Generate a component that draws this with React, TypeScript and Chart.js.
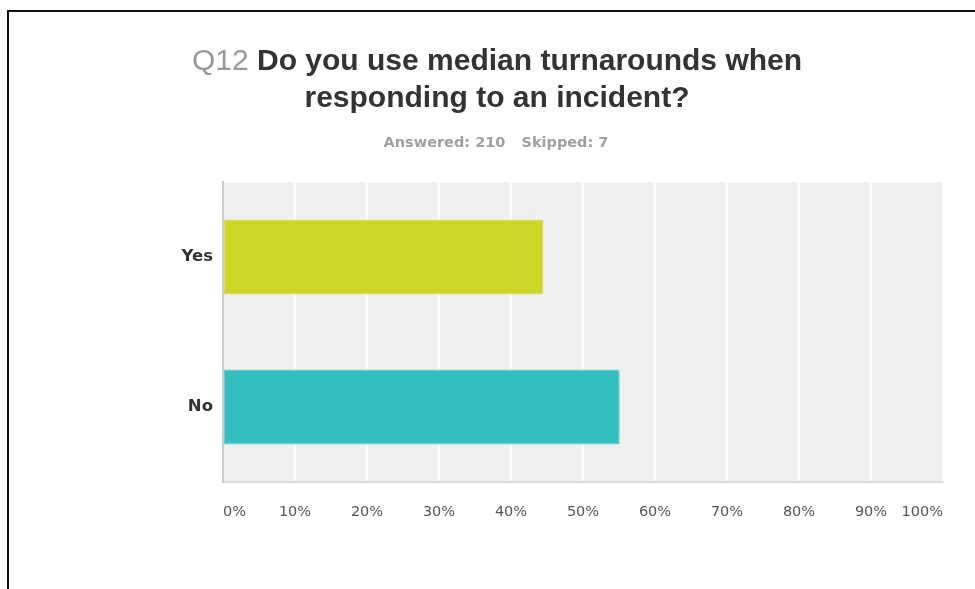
import React, { useEffect, useRef } from "react";
import { Chart, registerables } from "chart.js";

Chart.register(...registerables);

const categories = ["Yes", "No"];
const percentValues = [44.5, 55.1];
const barColors = ["#cdd527", "#33bec0"];
const tickValues = [0, 10, 20, 30, 40, 50, 60, 70, 80, 90, 100];
const titlePrefix = "Q12";
const titleLine1 = "Do you use median turnarounds when";
const titleLine2 = "responding to an incident?";
const answeredText = "Answered: 210";
const skippedText = "Skipped: 7";

const plotBg = {
  id: "plotBg",
  beforeDraw(chart: any) {
    const { ctx, chartArea } = chart;
    ctx.save();
    ctx.fillStyle = "#efefef";
    ctx.fillRect(chartArea.left, chartArea.top, chartArea.right - chartArea.left, chartArea.bottom - chartArea.top);
    ctx.restore();
  },
};

export default function App() {
  const ref = useRef<HTMLCanvasElement | null>(null);
  useEffect(() => {
    if (!ref.current) return;
    const chart = new Chart(ref.current, {
      type: "bar",
      data: {
        labels: categories,
        datasets: [
          {
            data: percentValues,
            backgroundColor: barColors,
            borderColor: ["#d6dc55", "#5ccbcd"],
            borderWidth: 1,
            borderSkipped: false,
            categoryPercentage: 1,
            barPercentage: 0.5,
          },
        ],
      },
      plugins: [plotBg],
      options: {
        indexAxis: "y",
        responsive: false,
        animation: false,
        devicePixelRatio: 1,
        layout: { padding: { top: 182, right: 32, bottom: 0, left: 0 } },
        plugins: {
          legend: { display: false },
          title: { display: false },
          tooltip: { enabled: false },
        },
        scales: {
          x: {
            min: 0,
            max: 100,
            afterBuildTicks: (s: any) => {
              s.ticks = tickValues.map((v) => ({ value: v }));
            },
            afterFit: (s: any) => {
              s.height = 107;
            },
            ticks: {
              callback: (v: any) => v + "%",
              align: "inner",
              padding: 22,
              color: "#555555",
              font: { family: "'DejaVu Sans', sans-serif", size: 14.5 },
            },
            grid: { color: "#ffffff", lineWidth: 1.5, drawTicks: false },
            border: { display: true, color: "#dadada", width: 2 },
          },
          y: {
            afterFit: (s: any) => {
              s.width = 223;
            },
            ticks: {
              padding: 10,
              color: "#333333",
              font: { family: "'DejaVu Sans', sans-serif", size: 16.5, weight: "bold" },
            },
            grid: { display: false, drawTicks: false },
            border: { display: true, color: "#cccccc", width: 2 },
          },
        },
      },
    } as any);
    return () => chart.destroy();
  }, []);

  return (
    <div
      style={{
        position: "fixed",
        left: 0,
        top: 0,
        width: 975,
        height: 589,
        background: "#ffffff",
        overflow: "hidden",
      }}
    >
      <div
        style={{
          position: "absolute",
          left: 7,
          top: 10,
          width: 1100,
          height: 1100,
          border: "2px solid #111111",
          boxSizing: "border-box",
        }}
      />
      <canvas ref={ref} width={975} height={589} style={{ position: "absolute", left: 0, top: 0, width: 975, height: 589 }} />
      <div
        style={{
          position: "absolute",
          left: 97,
          top: 41,
          width: 800,
          textAlign: "center",
          fontFamily: "'Liberation Sans', Arial, sans-serif",
          fontWeight: "bold",
          fontSize: 30,
          lineHeight: "37px",
          color: "#333333",
        }}
      >
        <span style={{ color: "#999999", fontWeight: "normal" }}>{titlePrefix}</span> {titleLine1}
        <br />
        {titleLine2}
      </div>
      <div
        style={{
          position: "absolute",
          left: 96,
          top: 132,
          width: 800,
          textAlign: "center",
          fontFamily: "'DejaVu Sans', sans-serif",
          fontWeight: "bold",
          fontSize: 14.5,
          lineHeight: "20px",
          color: "#a0a0a0",
        }}
      >
        {answeredText}
        <span style={{ display: "inline-block", width: 16 }} />
        {skippedText}
      </div>
    </div>
  );
}
